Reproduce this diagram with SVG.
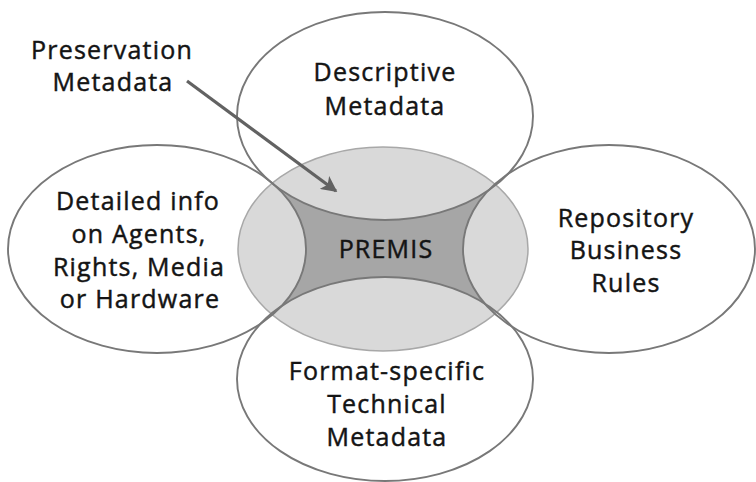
<svg xmlns="http://www.w3.org/2000/svg" width="756" height="482" viewBox="0 0 756 482">
  <style>
    .outer { fill: none; stroke: #787878; stroke-width: 1.9; }
    .lbl { font-family: "Open Sans", "Liberation Sans", sans-serif; font-size: 25px; letter-spacing: 1.2px; fill: #141414; stroke: #141414; stroke-width: 0.45; text-anchor: middle; }
    .conn { stroke: #626262; stroke-width: 3.2; fill: none; }
  </style>
  <defs>
    <marker id="arrowhead" viewBox="0 0 10 10" refX="9" refY="5" markerWidth="5" markerHeight="5" orient="auto" markerUnits="strokeWidth">
      <path d="M0,0 L10,5 L0,10 L2.5,5 Z" fill="#626262"/>
    </marker>
    <mask id="outside-outer">
      <rect x="0" y="0" width="756" height="482" fill="#fff"/>
      <ellipse cx="385" cy="116" rx="148" ry="104" fill="#000"/>
      <ellipse cx="157" cy="249" rx="149" ry="104" fill="#000"/>
      <ellipse cx="609" cy="249" rx="146" ry="104" fill="#000"/>
      <ellipse cx="385" cy="379" rx="148" ry="102" fill="#000"/>
    </mask>
  </defs>
  <rect x="0" y="0" width="756" height="482" fill="#ffffff"/>

  <g id="node-premis">
    <ellipse cx="383" cy="249" rx="145" ry="102" fill="#d9d9d9" stroke="#a8a8a8" stroke-width="1.5"/>
    <ellipse cx="383" cy="249" rx="145" ry="102" fill="#a6a6a6" mask="url(#outside-outer)"/>
    <text class="lbl" x="386" y="258">PREMIS</text>
  </g>

  <g id="node-descriptive">
    <ellipse class="outer" cx="385" cy="116" rx="148" ry="104"/>
    <text class="lbl" x="385" y="81">Descriptive</text>
    <text class="lbl" x="385" y="115">Metadata</text>
  </g>

  <g id="node-detailed">
    <ellipse class="outer" cx="157" cy="249" rx="149" ry="104"/>
    <text class="lbl" x="138" y="210">Detailed info</text>
    <text class="lbl" x="139" y="243">on Agents,</text>
    <text class="lbl" x="139" y="276">Rights, Media</text>
    <text class="lbl" x="140" y="308">or Hardware</text>
  </g>

  <g id="node-repository">
    <ellipse class="outer" cx="609" cy="249" rx="146" ry="104"/>
    <text class="lbl" x="626" y="227">Repository</text>
    <text class="lbl" x="626" y="259">Business</text>
    <text class="lbl" x="626" y="292">Rules</text>
  </g>

  <g id="node-format">
    <ellipse class="outer" cx="385" cy="379" rx="148" ry="102"/>
    <text class="lbl" x="387" y="380">Format-specific</text>
    <text class="lbl" x="387" y="413">Technical</text>
    <text class="lbl" x="387" y="446">Metadata</text>
  </g>

  <g id="node-preservation">
    <text class="lbl" x="112" y="59">Preservation</text>
    <text class="lbl" x="113" y="91">Metadata</text>
  </g>

  <g id="connectors">
    <line class="conn" x1="187" y1="81" x2="336" y2="191" marker-end="url(#arrowhead)"/>
  </g>
</svg>
